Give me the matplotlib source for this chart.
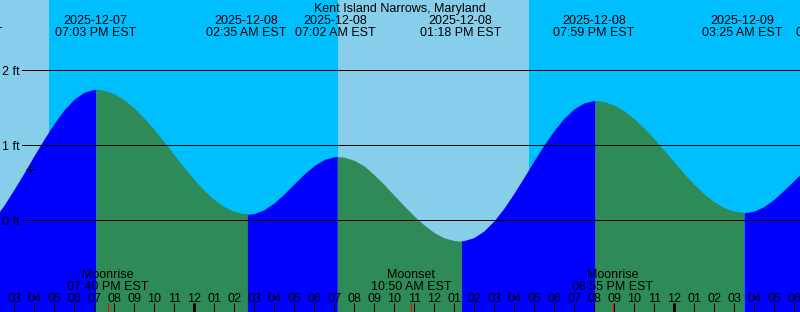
import numpy as np
import matplotlib
matplotlib.use('Agg')
import matplotlib.pyplot as plt
import matplotlib.transforms as mtransforms

# time axis: hours since 2025-12-07 00:00 EST, level in ft
hours = np.array([
    14.0, 14.5, 15.0, 15.5, 16.0, 16.5, 17.0, 17.5, 18.0, 18.5, 19.0, 19.1,
    19.5, 20.0, 20.5, 21.0, 21.5, 22.0, 22.5, 23.0, 23.5, 24.0, 24.5, 25.0,
    25.5, 26.0, 26.5, 26.68, 27.0, 27.5, 28.0, 28.5, 29.0, 29.5, 30.0, 30.5,
    31.0, 31.15, 31.5, 32.0, 32.5, 33.0, 33.5, 34.0, 34.5, 35.0, 35.5, 36.0,
    36.5, 37.0, 37.36, 37.5, 38.0, 38.5, 39.0, 39.5, 40.0, 40.5, 41.0, 41.5,
    42.0, 42.5, 43.0, 43.5, 44.0, 44.06, 44.5, 45.0, 45.5, 46.0, 46.5, 47.0,
    47.5, 48.0, 48.5, 49.0, 49.5, 50.0, 50.5, 51.0, 51.49, 52.0, 52.5, 53.0,
    53.5, 54.0, 54.5])
level = np.array([
    0.01, 0.19, 0.40, 0.62, 0.85, 1.07, 1.279, 1.462, 1.605, 1.699, 1.739, 1.740,
    1.729, 1.683, 1.604, 1.496, 1.362, 1.209, 1.044, 0.872, 0.702, 0.541, 0.396, 0.273,
    0.177, 0.113, 0.082, 0.080, 0.090, 0.142, 0.234, 0.354, 0.488, 0.619, 0.731, 0.811,
    0.848, 0.850, 0.841, 0.799, 0.723, 0.605, 0.475, 0.330, 0.190, 0.055, -0.065, -0.165,
    -0.235, -0.270, -0.280, -0.278, -0.238, -0.150, -0.017, 0.152, 0.350, 0.563, 0.782, 0.994,
    1.187, 1.351, 1.477, 1.558, 1.590, 1.590, 1.577, 1.532, 1.456, 1.353, 1.227, 1.085,
    0.931, 0.774, 0.620, 0.476, 0.349, 0.243, 0.164, 0.116, 0.100, 0.123, 0.186, 0.284,
    0.405, 0.536, 0.662])

# where the drawn curve turns (high, low, high, ...)
turn_hours = [19.1, 26.68, 31.15, 37.36, 44.06, 51.49]

# night between sunset and sunrise
night_spans = [(16.735, 31.17), (40.735, 60.0)]

# tide events printed at the top
tide_hours = [12.35, 19.05, 26.583, 31.033, 37.3, 43.983, 51.417, 56.1]
tide_dates = ['2025-12-07', '2025-12-07', '2025-12-08', '2025-12-08',
              '2025-12-08', '2025-12-08', '2025-12-09', '2025-12-09']
tide_times = ['12:21 PM EST', '07:03 PM EST', '02:35 AM EST', '07:02 AM EST',
              '01:18 PM EST', '07:59 PM EST', '03:25 AM EST', '08:06 AM EST']

# moon events printed at the bottom
moon_hours = [19.667, 34.833, 44.917]
moon_names = ['Moonrise', 'Moonset', 'Moonrise']
moon_times = ['07:40 PM EST', '10:50 AM EST', '08:55 PM EST']

grid_ft = [0, 1, 2]
mark_hour, mark_level = 15.785, 0.68

DAY = '#87CEEB'
NIGHT = '#00BFFF'
FLOOD = '#0000FF'
EBB = '#2E8B57'
W, H = 800, 312
PX = 0.72  # one pixel in points

plt.rcParams['font.family'] = ['Liberation Sans', 'DejaVu Sans']
plt.rcParams['font.size'] = 9

fig = plt.figure(figsize=(W / 100, H / 100), dpi=100)
ax = fig.add_axes([0, 0, 1, 1])
ax.set_axis_off()
ax.set_xlim(14.285, 54.285)
ax.set_ylim((220.3 - H) / 75, 220.3 / 75)


def fy(p):
    # pixel row from the top -> axes fraction
    return 1 - p / H


ax.add_patch(plt.Rectangle((0, 0), 1, 1, transform=ax.transAxes, color=DAY, zorder=0))
for a, b in night_spans:
    ax.axvspan(a, b, color=NIGHT, lw=0, zorder=1)

# tide: flood (rising) segments in blue, ebb (falling) in green drawn over them
bottom = -3
edges = [hours[0]] + turn_hours + [hours[-1]]
for i in range(len(edges) - 1):
    a, b = edges[i], edges[i + 1]
    if i % 2 == 0:
        m = (hours >= a - 0.3) & (hours <= b + 0.3)
        ax.fill_between(hours[m], level[m], bottom, color=FLOOD, lw=0, zorder=2)
    else:
        m = (hours >= a) & (hours <= b)
        ax.fill_between(hours[m], level[m], bottom, color=EBB, lw=0, zorder=3)

# ft grid
for g in grid_ft:
    ax.axhline(g, xmin=22 / W, xmax=1, color='black', lw=PX, zorder=4)
    ax.text(19.5 / W, g, f'{g} ft', transform=mtransforms.offset_copy(
        ax.get_yaxis_transform(), fig=fig, y=-4.5, units='dots'),
        ha='right', va='baseline', zorder=5)

ax.plot([mark_hour], [mark_level], marker='+', ms=9 * PX, mew=PX, color='black', zorder=5)

ax.text(0.5, fy(12), 'Kent Island Narrows, Maryland', transform=ax.transAxes,
        ha='center', va='baseline', zorder=6)

xt = ax.get_xaxis_transform()
for t, d, s in zip(tide_hours, tide_dates, tide_times):
    ax.text(t, fy(24), d, transform=xt, ha='center', va='baseline', zorder=6)
    ax.text(t, fy(36), s, transform=xt, ha='center', va='baseline', zorder=6)

for t, n, s in zip(moon_hours, moon_names, moon_times):
    ax.text(t, fy(278.5), n, transform=xt, ha='center', va='baseline', zorder=6)
    ax.text(t, fy(290.5), s, transform=xt, ha='center', va='baseline', zorder=6)

# hour ticks along the bottom
for t in range(15, 55):
    hr = t % 12 or 12
    ax.text(t, fy(302), f'{hr:02d}', transform=xt, ha='center', va='baseline', zorder=6)
    lw = 3 * PX if t % 24 == 0 else PX
    ax.vlines(t, 0, fy(303), transform=xt, color='black', lw=lw, zorder=6)
ax.vlines(moon_hours, 0, fy(303), transform=xt, color='red', lw=PX, zorder=7)

fig.savefig('out.png', dpi=100)
